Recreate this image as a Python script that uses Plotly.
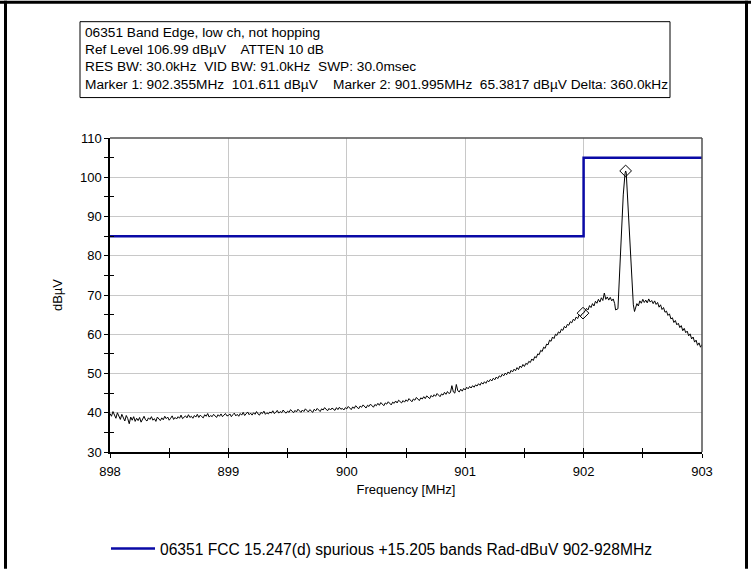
import plotly.graph_objects as go

# ---- Measured spectrum (dBuV) ----------------------------------------------
# Uniform sweep segments: level readings every 12.5 kHz
SWEEP_STEP_MHZ = 0.0125

floor_898 = [  # 898.0000 .. 898.9875 MHz
    39.8, 39.1, 40.3, 39.4, 38.6, 40.0, 39.2, 38.3, 39.6, 38.7,
    37.9, 39.3, 38.5, 37.2, 38.9, 38.1, 39.0, 37.8, 38.6, 38.0,
    38.8, 37.6, 38.4, 39.1, 38.2, 37.9, 38.7, 38.3, 39.0, 38.1,
    38.5, 37.8, 38.9, 38.4, 38.0, 38.7, 38.2, 39.1, 38.5, 38.9,
    38.1, 38.6, 39.2, 38.3, 38.8, 38.4, 39.0, 38.6, 39.4, 38.5,
    38.9, 39.2, 38.7, 39.5, 38.8, 39.1, 38.6, 39.3, 38.9, 39.6,
    38.8, 39.4, 39.0, 38.7, 39.5, 39.1, 39.8, 38.9, 39.3, 39.0,
    39.6, 39.2, 38.8, 39.5, 39.1, 39.7, 39.0, 39.4, 39.8, 39.2,
]
floor_899 = [  # 899.0000 .. 899.9875 MHz
    39.3, 39.7, 39.0, 39.5, 39.9, 39.2, 39.6, 39.1, 39.8, 39.4,
    40.1, 39.3, 39.7, 40.2, 39.5, 39.9, 39.4, 40.0, 39.6, 40.3,
    39.7, 39.4, 40.1, 39.8, 40.4, 39.6, 40.0, 39.7, 40.2, 39.9,
    40.5, 39.8, 40.1, 40.6, 39.9, 40.3, 40.0, 40.7, 40.2, 39.9,
    40.4, 40.1, 40.8, 40.3, 40.0, 40.6, 40.2, 40.9, 40.4, 40.1,
    40.7, 40.3, 41.0, 40.5, 40.2, 40.8, 40.4, 40.1, 40.9, 40.5,
    41.1, 40.6, 40.3, 41.0, 40.7, 41.3, 40.8, 40.5, 41.1, 40.7,
    41.2, 40.9, 40.6, 41.3, 40.8, 41.4, 40.9, 41.1, 40.7, 41.3,
]
floor_900 = [  # 900.0000 .. 900.9875 MHz
    41.0, 41.6, 41.2, 40.8, 41.5, 41.1, 41.8, 41.3, 41.0, 41.7,
    41.4, 42.0, 41.5, 41.2, 41.9, 41.6, 42.2, 41.7, 41.4, 42.1,
    41.8, 42.4, 41.9, 42.6, 42.1, 41.8, 42.5, 42.2, 42.8, 42.3,
    42.0, 42.7, 42.4, 43.0, 42.5, 43.2, 42.8, 42.5, 43.1, 42.7,
    43.3, 42.9, 43.6, 43.1, 42.8, 43.5, 43.2, 43.9, 43.4, 43.1,
    43.8, 43.5, 44.1, 43.6, 44.3, 43.9, 43.6, 44.4, 44.0, 44.6,
    44.2, 44.9, 44.4, 44.1, 44.8, 44.5, 45.2, 44.7, 45.4, 44.9,
    45.1, 46.9, 45.3, 45.0, 47.2, 45.6, 45.3, 46.0, 45.5, 46.2,
]
skirt_901 = [  # 901.0000 .. 901.9875 MHz
    45.8, 46.5, 46.1, 46.7, 46.3, 46.9, 46.5, 47.1,
    46.8, 47.4, 47.0, 47.7, 47.3, 47.9, 47.5, 48.2,
    47.9, 48.5, 48.1, 48.8, 48.4, 49.1, 48.7, 49.4,
    49.1, 49.8, 49.4, 50.1, 49.7, 50.4, 50.0, 50.8,
    50.4, 51.1, 50.7, 51.5, 51.0, 51.9, 51.5, 52.3,
    51.8, 52.6, 52.3, 53.1, 52.8, 53.7, 53.3, 54.3,
    54.0, 55.0, 54.8, 55.9, 55.6, 56.7, 56.4, 57.5,
    57.3, 58.5, 58.2, 59.3, 58.9, 60.0, 59.7, 60.6,
    60.3, 61.3, 61.0, 62.0, 61.6, 62.5, 62.3, 63.2,
    62.9, 63.8, 63.5, 64.4, 64.0, 64.9, 64.6, 65.2,
]
# Carrier region, irregular frequency points
carrier_freq = [
    902.0000, 902.0125, 902.0250, 902.0375, 902.0500, 902.0625, 902.0750, 902.0875,
    902.1000, 902.1125, 902.1250, 902.1375, 902.1500, 902.1625, 902.1750, 902.1875,
    902.2000, 902.2125, 902.2250, 902.2375, 902.2500, 902.2625, 902.2700, 902.2900,
    902.3050, 902.3200, 902.3350, 902.3500, 902.3550, 902.3600, 902.3750, 902.3900,
    902.4050, 902.4200, 902.4300,
]
carrier_dbuv = [
    65.4, 65.9, 66.6, 66.2, 67.3, 66.8, 67.8, 67.2,
    68.4, 67.9, 68.9, 68.2, 69.3, 68.6, 70.5, 68.9,
    69.5, 68.7, 69.4, 68.5, 69.0, 67.8, 66.2, 66.5,
    77.5, 87.5, 95.5, 101.0, 101.6, 101.2, 93.0, 84.0,
    76.0, 67.5, 65.8,
]
upper_skirt = [  # 902.4375 .. 903.0000 MHz
    66.9, 67.8, 67.2, 68.5, 67.9, 68.9, 68.1, 68.7, 68.0, 69.0,
    68.2, 68.6, 67.8, 68.5, 67.6, 68.1, 66.9, 67.5, 66.3, 66.8,
    65.6, 65.9, 64.8, 65.2, 63.9, 64.2, 63.0, 63.5, 62.4, 62.8,
    61.7, 62.2, 60.9, 61.5, 60.4, 60.8, 59.6, 60.1, 58.8, 59.3,
    58.0, 58.5, 57.2, 57.8, 56.7, 57.4,
]


def sweep(start_mhz, levels):
    return [round(start_mhz + i * SWEEP_STEP_MHZ, 4) for i in range(len(levels))]


freq_mhz = (sweep(898.0, floor_898) + sweep(899.0, floor_899) + sweep(900.0, floor_900)
            + sweep(901.0, skirt_901) + carrier_freq + sweep(902.4375, upper_skirt))
level_dbuv = floor_898 + floor_899 + floor_900 + skirt_901 + carrier_dbuv + upper_skirt

# ---- Limit line: FCC 15.247(d) spurious / 15.205 restricted bands ----------
limit_freq = [898, 902, 902, 903]
limit_dbuv = [85, 85, 105, 105]
limit_name = "06351 FCC 15.247(d) spurious +15.205 bands Rad-dBuV 902-928MHz"

# ---- Markers ----------------------------------------------------------------
marker_freq = [902.355, 901.995]
marker_dbuv = [101.611, 65.3817]

header_lines = [
    "06351 Band Edge, low ch, not hopping",
    "Ref Level 106.99 dB\u00b5V    ATTEN 10 dB",
    "RES BW: 30.0kHz  VID BW: 91.0kHz  SWP: 30.0msec",
    "Marker 1: 902.355MHz  101.611 dB\u00b5V    Marker 2: 901.995MHz  65.3817 dB\u00b5V Delta: 360.0kHz",
]

FONT = "Liberation Sans"

# Plot-area geometry in pixels (used to place paper-referenced decorations)
W, H = 751, 569
L, R, T, B = 110, 702, 137.5, 452


def px(x):
    return (x - L) / (R - L)


def py(y):
    return (B - y) / (B - T)


fig = go.Figure()

fig.add_trace(go.Scatter(
    x=limit_freq, y=limit_dbuv, mode="lines", name=limit_name,
    line=dict(color="#0a0aa6", width=2.5), showlegend=True,
))
fig.add_trace(go.Scatter(
    x=freq_mhz, y=level_dbuv, mode="lines", name="trace",
    line=dict(color="black", width=1), showlegend=False,
))
fig.add_trace(go.Scatter(
    x=marker_freq, y=marker_dbuv, mode="markers", showlegend=False,
    marker=dict(symbol="diamond-open", size=9, color="black", line=dict(width=1)),
))
# invisible trace so the overlay axes carrying the inner tick halves are drawn
fig.add_trace(go.Scatter(x=[898], y=[30], xaxis="x2", yaxis="y2", mode="markers",
                         marker=dict(opacity=0), showlegend=False, hoverinfo="skip"))

tick_font = dict(family=FONT, size=13, color="black")

fig.update_layout(
    width=W, height=H,
    margin=dict(l=L, r=W - R, t=T, b=H - B, pad=0, autoexpand=False),
    paper_bgcolor="white", plot_bgcolor="white",
    font=dict(family=FONT, size=12, color="black"),
    xaxis=dict(
        range=[898, 903], dtick=1, tick0=898, showgrid=True, gridcolor="#c8c8c8", gridwidth=1,
        ticks="outside", ticklen=4, tickcolor="black", tickwidth=1, ticklabelstandoff=3,
        minor=dict(dtick=0.5, ticks="outside", ticklen=4, tickcolor="black", showgrid=False),
        showline=True, linecolor="black", linewidth=1.5, zeroline=False,
        tickfont=tick_font,
        title=dict(text="Frequency [MHz]", font=dict(family=FONT, size=13), standoff=7),
    ),
    yaxis=dict(
        range=[30, 110], dtick=10, tick0=30, showgrid=True, gridcolor="#c8c8c8", gridwidth=1,
        ticks="outside", ticklen=4, tickcolor="black", tickwidth=1, ticklabelstandoff=0,
        minor=dict(dtick=5, ticks="outside", ticklen=4, tickcolor="black", showgrid=False),
        showline=True, linecolor="black", linewidth=1.5, zeroline=False,
        tickfont=tick_font,
        title=dict(text="dB\u00b5V", font=dict(family=FONT, size=13), standoff=14),
    ),
    xaxis2=dict(
        overlaying="x", range=[898, 903], dtick=1, tick0=898, showgrid=False,
        ticks="inside", ticklen=4, tickcolor="black", showticklabels=False,
        minor=dict(dtick=0.5, ticks="inside", ticklen=4, tickcolor="black"),
        showline=False, zeroline=False, side="bottom",
    ),
    yaxis2=dict(
        overlaying="y", range=[30, 110], dtick=10, tick0=30, showgrid=False,
        ticks="", showticklabels=False,
        minor=dict(dtick=5, ticks="inside", ticklen=4, tickcolor="black"),
        showline=False, zeroline=False, side="left",
    ),
    legend=dict(
        x=px(106), y=py(549), xanchor="left", yanchor="middle", itemwidth=44,
        bgcolor="rgba(0,0,0,0)", font=dict(family=FONT, size=15.6),
    ),
)

shapes = [
    # top and right plot frame
    dict(type="line", xref="paper", yref="paper", x0=0, x1=1, y0=1, y1=1,
         line=dict(color="#505050", width=1.5)),
    dict(type="line", xref="paper", yref="paper", x0=1, x1=1, y0=0, y1=1,
         line=dict(color="#505050", width=1.5)),
    # header box
    dict(type="rect", xref="paper", yref="paper", x0=px(80), x1=px(670), y0=py(97), y1=py(21),
         line=dict(color="black", width=1), fillcolor="white"),
    # outer window frame
    dict(type="line", xref="paper", yref="paper", x0=px(5.5), x1=px(5.5), y0=py(0), y1=py(569),
         line=dict(color="black", width=3)),
    dict(type="line", xref="paper", yref="paper", x0=px(746.5), x1=px(746.5), y0=py(0), y1=py(569),
         line=dict(color="black", width=3)),
    dict(type="line", xref="paper", yref="paper", x0=px(0), x1=px(751), y0=py(1.5), y1=py(1.5),
         line=dict(color="black", width=3)),
]
fig.update_layout(shapes=shapes)

line_y = [32, 49, 66, 84]
for text, yy in zip(header_lines, line_y):
    fig.add_annotation(
        text=text, xref="paper", yref="paper", x=px(83), y=py(yy),
        xanchor="left", yanchor="middle", showarrow=False,
        font=dict(family=FONT, size=13.7, color="black"),
    )

fig.write_html("out.html")
